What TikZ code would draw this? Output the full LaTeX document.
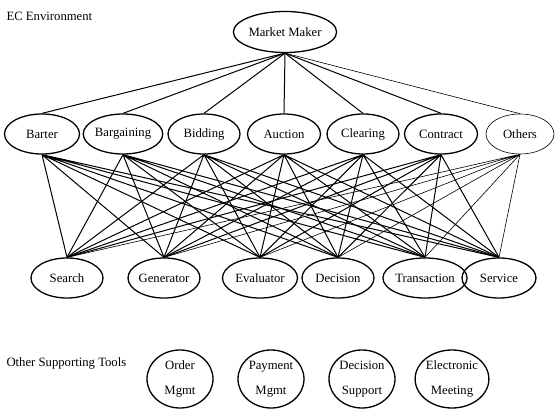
\documentclass[tikz,border=0pt]{standalone}
\usepackage{fontspec}
\setmainfont{Liberation Serif}
\usepackage{tikz}
\usetikzlibrary{shapes.geometric}
\tikzset{mech/.style = {shape = ellipse, draw, line width = 1.3pt, inner sep = 0pt, minimum height = 40pt}}
\tikzset{tool/.style = {shape = ellipse, draw, line width = 1.3pt, inner sep = 0pt, minimum width = 66pt, minimum height = 58pt, align = center}}
\tikzset{edge/.style = {line width = 1pt}}
\tikzset{thinedge/.style = {line width = 0.6pt}}

\begin{document}
\begin{tikzpicture}[x = 1pt, y = -1pt, font = \fontsize{12.7}{14}\selectfont]
			\useasboundingbox (0, 0) rectangle (555, 409);

			\node[anchor = west] (ecenv) at (3, 16) {EC Environment};
			\node[anchor = west] (others-label) at (3, 363) {Other Supporting Tools};

			\node[mech, minimum width = 100pt, minimum height = 41pt] (maker) at (285, 32) {Market Maker};

			\node[mech, minimum width = 75pt] (barter) at (42, 134) {Barter};
			\node[mech, minimum width = 73pt] (bargaining) at (123, 134) {Bargaining};
			\node[mech, minimum width = 72pt] (bidding) at (204, 134) {Bidding};
			\node[mech, minimum width = 73pt] (auction) at (284, 134) {Auction};
			\node[mech, minimum width = 72pt] (clearing) at (363, 134) {Clearing};
			\node[mech, minimum width = 73pt] (contract) at (441, 134) {Contract};
			\node[mech, minimum width = 68pt, line width = 0.6pt] (others) at (520, 134) {Others};

			\node[mech, minimum width = 72pt] (search) at (67, 278) {Search};
			\node[mech, minimum width = 72pt] (generator) at (164, 278) {Generator};
			\node[mech, minimum width = 75pt] (evaluator) at (260, 278) {Evaluator};
			\node[mech, minimum width = 72pt] (decision) at (338, 278) {Decision};
			\node[mech, minimum width = 70pt] (transaction) at (425, 278) {Transaction};
			\node[mech, minimum width = 74pt] (service) at (499, 278) {Service};

			\node[tool] (order) at (180, 379) {Order\\[11pt]Mgmt};
			\node[tool] (payment) at (271, 379) {Payment\\[11pt]Mgmt};
			\node[tool] (support) at (362, 379) {Decision\\[11pt]Support};
			\node[tool] (meeting) at (452, 379) {Electronic\\[11pt]Meeting};

			\draw[edge] (maker.south) -- (barter.north);
			\draw[edge] (maker.south) -- (bargaining.north);
			\draw[edge] (maker.south) -- (bidding.north);
			\draw[edge] (maker.south) -- (auction.north);
			\draw[edge] (maker.south) -- (clearing.north);
			\draw[edge] (maker.south) -- (contract.north);
			\draw[thinedge] (maker.south) -- (others.north);

			\draw[edge] (barter.south) -- (search.north) (barter.south) -- (generator.north) (barter.south) -- (evaluator.north) (barter.south) -- (decision.north) (barter.south) -- (transaction.north) (barter.south) -- (service.north);
			\draw[edge] (bargaining.south) -- (search.north) (bargaining.south) -- (generator.north) (bargaining.south) -- (evaluator.north) (bargaining.south) -- (decision.north) (bargaining.south) -- (transaction.north) (bargaining.south) -- (service.north);
			\draw[edge] (bidding.south) -- (search.north) (bidding.south) -- (generator.north) (bidding.south) -- (evaluator.north) (bidding.south) -- (decision.north) (bidding.south) -- (transaction.north) (bidding.south) -- (service.north);
			\draw[edge] (auction.south) -- (search.north) (auction.south) -- (generator.north) (auction.south) -- (evaluator.north) (auction.south) -- (decision.north) (auction.south) -- (transaction.north) (auction.south) -- (service.north);
			\draw[edge] (clearing.south) -- (search.north) (clearing.south) -- (generator.north) (clearing.south) -- (evaluator.north) (clearing.south) -- (decision.north) (clearing.south) -- (transaction.north) (clearing.south) -- (service.north);
			\draw[edge] (contract.south) -- (search.north) (contract.south) -- (generator.north) (contract.south) -- (evaluator.north) (contract.south) -- (decision.north) (contract.south) -- (transaction.north) (contract.south) -- (service.north);
			\draw[thinedge] (others.south) -- (search.north) (others.south) -- (generator.north) (others.south) -- (evaluator.north) (others.south) -- (decision.north) (others.south) -- (transaction.north) (others.south) -- (service.north);
		\end{tikzpicture}
\end{document}
